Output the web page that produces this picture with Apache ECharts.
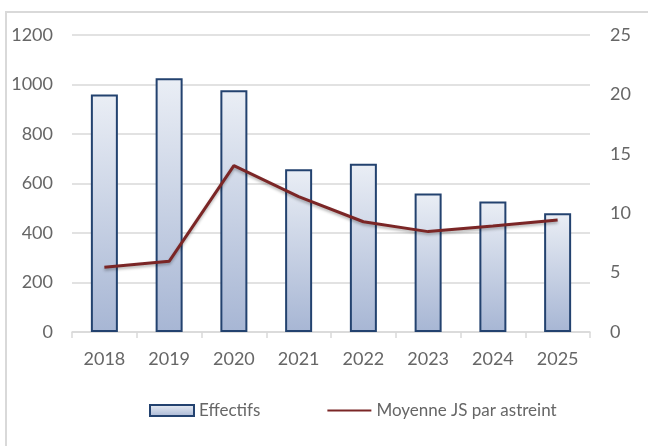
<!DOCTYPE html>
<html>
<head>
<meta charset="utf-8">
<script src="https://cdn.jsdelivr.net/npm/echarts@6/dist/echarts.min.js"></script>
<style>
html,body{margin:0;padding:0;background:#fff;}
#c{width:648px;height:446px;}
</style>
</head>
<body>
<div id="c"></div>
<script>
var categories = ['2018','2019','2020','2021','2022','2023','2024','2025'];
var effectifs = [960, 1025, 977, 658, 680, 560, 527, 480];
var moyenneJS = [5.45, 5.95, 14.0, 11.4, 9.28, 8.45, 8.92, 9.43];
var leftTicks = {min: 0, max: 1200, interval: 200};
var rightTicks = {min: 0, max: 25, interval: 5};

var FONT = 'Lato';
var chart = echarts.init(document.getElementById('c'), null, {renderer: 'canvas'});
chart.setOption({
  animation: false,
  backgroundColor: '#fff',
  textStyle: {fontFamily: FONT},
  graphic: [{
    type: 'rect',
    shape: {x: 6, y: 12, width: 700, height: 460},
    style: {fill: 'none', stroke: '#D9D9D9', lineWidth: 2},
    silent: true, z: -1
  }],
  grid: {left: 72, right: 58, top: 35, bottom: 114, containLabel: false},
  legend: {
    bottom: 22,
    left: 144,
    itemGap: 66,
    itemWidth: 44,
    itemHeight: 11,
    textStyle: {fontFamily: FONT, fontSize: 17, color: '#666'},
    data: [
      {name: 'Effectifs', icon: 'rect'},
      {name: 'Moyenne JS par astreint', itemStyle: {opacity: 0}}
    ]
  },
  xAxis: {
    type: 'category',
    data: categories,
    boundaryGap: true,
    axisLine: {lineStyle: {color: '#D9D9D9', width: 1.5}},
    axisTick: {show: true, length: 6, lineStyle: {color: '#D9D9D9', width: 1.5}},
    axisLabel: {color: '#666', fontSize: 18, fontFamily: FONT, margin: 18}
  },
  yAxis: [{
    type: 'value',
    min: leftTicks.min, max: leftTicks.max, interval: leftTicks.interval,
    axisLine: {show: false},
    axisTick: {show: false},
    axisLabel: {color: '#666', fontSize: 18, fontFamily: FONT, margin: 19,
      formatter: function (v) { return String(v); }},
    splitLine: {lineStyle: {color: '#D9D9D9', width: 1.5}}
  }, {
    type: 'value',
    min: rightTicks.min, max: rightTicks.max, interval: rightTicks.interval,
    axisLine: {show: false},
    axisTick: {show: false},
    axisLabel: {color: '#666', fontSize: 18, fontFamily: FONT, margin: 20,
      formatter: function (v) { return String(v); }},
    splitLine: {show: false}
  }],
  series: [{
    name: 'Effectifs',
    type: 'bar',
    data: effectifs,
    barWidth: 27,
    itemStyle: {
      color: new echarts.graphic.LinearGradient(0, 0, 0, 1, [
        {offset: 0, color: '#EAEEF5'},
        {offset: 1, color: '#A7B6D4'}
      ]),
      borderColor: '#23426F',
      borderWidth: 2
    }
  }, {
    name: 'Moyenne JS par astreint',
    type: 'line',
    yAxisIndex: 1,
    data: moyenneJS,
    symbol: 'none',
    showSymbol: false,
    color: '#7B2626',
    lineStyle: {
      color: '#7B2626', width: 3,
      shadowColor: 'rgba(0,0,0,0.3)', shadowBlur: 3, shadowOffsetY: 2
    },
    z: 5
  }]
});
</script>
</body>
</html>
